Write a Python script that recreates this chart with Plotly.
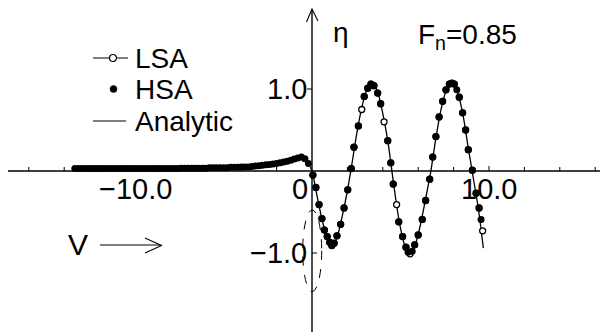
import plotly.graph_objects as go

# ---------------- data ----------------
hsa_x = [-13.4, -13.2, -13.0, -12.8, -12.6, -12.4, -12.2, -12.0, -11.8, -11.6, -11.4, -11.2,
         -11.0, -10.8, -10.6, -10.4, -10.2, -10.0, -9.8, -9.6, -9.4, -9.2, -9.0, -8.8, -8.6,
         -8.4, -8.2, -8.0, -7.8, -7.6, -7.4, -7.2, -7.0, -6.8, -6.6, -6.4, -6.2, -6.0, -5.8,
         -5.6, -5.4, -5.2, -5.0, -4.8, -4.6, -4.4, -4.2, -4.0, -3.8, -3.6, -3.4, -3.2, -3.0,
         -2.8, -2.6, -2.4, -2.2, -2.0, -1.8, -1.6, -1.4, -1.2, -1.0, -0.8, -0.6, -0.4, -0.2,
         0.05, 0.22, 0.40, 0.56, 0.70, 0.86, 1.00, 1.12, 1.25, 1.41, 1.62, 1.81, 2.02, 2.22,
         2.37, 2.62, 2.95, 3.15, 3.33, 3.50, 3.71, 3.88, 4.28, 4.45, 4.59, 4.90, 5.12,
         5.31, 5.43, 5.66, 5.80, 6.00, 6.23, 6.42, 6.65, 6.82, 7.00, 7.18, 7.38, 7.57, 7.76,
         7.90, 8.04, 8.18, 8.32, 8.51, 8.68, 8.83, 9.06, 9.27, 9.44, 9.55]
hsa_eta = [0.03, 0.03, 0.03, 0.03, 0.03, 0.03, 0.03, 0.03, 0.03, 0.03, 0.03, 0.03,
           0.03, 0.03, 0.03, 0.03, 0.03, 0.03, 0.03, 0.03, 0.03, 0.03, 0.03, 0.03, 0.03,
           0.03, 0.03, 0.03, 0.03, 0.03, 0.035, 0.035, 0.035, 0.035, 0.035, 0.035, 0.035, 0.035, 0.04,
           0.04, 0.04, 0.04, 0.04, 0.04, 0.045, 0.045, 0.045, 0.05, 0.05, 0.05, 0.055, 0.06, 0.065,
           0.07, 0.075, 0.08, 0.085, 0.09, 0.10, 0.11, 0.12, 0.13, 0.145, 0.16, 0.17, 0.15, 0.09,
           -0.05, -0.20, -0.41, -0.58, -0.72, -0.80, -0.87, -0.91, -0.88, -0.79, -0.65, -0.45, -0.23, 0.03,
           0.29, 0.55, 0.91, 1.01, 1.06, 1.04, 0.95, 0.82, 0.37, 0.10, -0.16, -0.62, -0.80,
           -0.93, -0.99, -0.98, -0.90, -0.78, -0.59, -0.36, -0.10, 0.17, 0.42, 0.66, 0.85, 0.99, 1.06,
           1.07, 1.06, 0.99, 0.90, 0.71, 0.50, 0.26, 0.01, -0.27, -0.45, -0.59]

lsa_x = [0.05, 0.22, 0.40, 0.56, 0.70, 0.86, 1.00, 1.12, 1.25, 1.41, 1.62, 1.81, 2.02, 2.22,
         2.37, 2.62, 2.81, 2.95, 3.15, 3.33, 3.50, 3.71, 3.88, 4.07, 4.28, 4.45, 4.59, 4.78,
         4.90, 5.12, 5.31, 5.54, 5.80, 6.00, 6.23, 6.42, 6.65, 6.82, 7.00, 7.18, 7.38, 7.57,
         7.76, 7.90, 8.04, 8.32, 8.51, 8.68, 8.83, 9.06, 9.27, 9.44, 9.64]
lsa_eta = [-0.05, -0.20, -0.41, -0.58, -0.72, -0.80, -0.87, -0.91, -0.88, -0.79, -0.65, -0.45, -0.23, 0.03,
           0.29, 0.55, 0.75, 0.91, 1.01, 1.06, 1.04, 0.95, 0.82, 0.60, 0.37, 0.10, -0.16, -0.41,
           -0.62, -0.80, -0.93, -1.01, -0.90, -0.78, -0.59, -0.36, -0.10, 0.17, 0.42, 0.66, 0.85, 0.99,
           1.06, 1.07, 1.06, 0.90, 0.71, 0.50, 0.26, 0.01, -0.27, -0.45, -0.73]

analytic_x = [-0.1, 0.0, 0.3, 0.6, 0.9, 1.15, 1.4, 1.7, 2.0, 2.25, 2.5, 2.8, 3.1, 3.4, 3.7,
              4.0, 4.3, 4.6, 4.9, 5.2, 5.5, 5.8, 6.1, 6.4, 6.7, 7.0, 7.3, 7.6, 7.9, 8.2,
              8.5, 8.8, 9.1, 9.4, 9.68]
analytic_eta = [0.05, 0.0, -0.32, -0.62, -0.84, -0.91, -0.82, -0.56, -0.24, 0.08, 0.42, 0.76, 0.99, 1.07, 0.97,
                0.70, 0.34, -0.14, -0.58, -0.88, -1.02, -0.92, -0.68, -0.36, -0.02, 0.40, 0.76, 0.99, 1.07, 0.97,
                0.72, 0.32, -0.07, -0.46, -0.94]

x_tick_values = [-16, -14, -12, -10, -8, -6, -4, -2, 2, 4, 6, 8, 10, 12, 14, 16]
x_tick_labels = {-10: "\u221210.0", 10: "10.0"}
y_tick_labels = {1: "1.0", -1: "\u22121.0"}
legend_names = ["LSA", "HSA", "Analytic"]

# ---------------- geometry helpers (pixel -> data) ----------------
W, H = 601, 332
X0PX, Y0PX = 312.0, 171.0
SX, SY = 17.7, 82.0


def X(px):
    return (px - X0PX) / SX


def Y(py):
    return (Y0PX - py) / SY


FONT = "Liberation Sans, Arial, Helvetica, sans-serif"
TICK_FONT = dict(size=29, family=FONT, color="black")
LEG_FONT = dict(size=28, family=FONT, color="black")
fig = go.Figure()

fig.add_trace(go.Scatter(x=analytic_x, y=analytic_eta, mode="lines",
                         line=dict(color="black", width=1.3, shape="spline", smoothing=0.8),
                         showlegend=False, hoverinfo="skip"))
fig.add_trace(go.Scatter(x=lsa_x, y=lsa_eta, mode="markers",
                         marker=dict(symbol="circle", size=6, color="white",
                                     line=dict(color="black", width=1.3)),
                         showlegend=False))
fig.add_trace(go.Scatter(x=hsa_x, y=hsa_eta, mode="markers",
                         marker=dict(symbol="circle", size=7, color="black",
                                     line=dict(width=0)),
                         showlegend=False))

shapes = []
ln = dict(color="black", width=1.4)
# x axis
shapes.append(dict(type="line", xref="x", yref="y", x0=X(8), x1=X(600), y0=0, y1=0, line=ln))
# y axis with open arrow
shapes.append(dict(type="line", xref="x", yref="y", x0=0, x1=0, y0=Y(332), y1=Y(9), line=ln))
shapes.append(dict(type="path", xref="x", yref="y",
                   path=f"M{X(306.5)},{Y(22)} L{X(312)},{Y(9)} L{X(318)},{Y(21)}",
                   line=dict(color="black", width=1.1)))
# x ticks
for t in x_tick_values:
    h = 5 if abs(t) == 10 else 4
    shapes.append(dict(type="line", xref="x", yref="y", x0=t, x1=t, y0=0, y1=h / SY,
                       line=dict(color="black", width=1)))
# y ticks
shapes.append(dict(type="line", xref="x", yref="y", x0=X(307), x1=0, y0=1, y1=1,
                   line=dict(color="black", width=1)))
shapes.append(dict(type="line", xref="x", yref="y", x0=0, x1=X(317), y0=-1, y1=-1,
                   line=dict(color="black", width=1)))
# dashed ellipse (pressure region)
shapes.append(dict(type="circle", xref="x", yref="y", x0=X(302.7), x1=X(321.7),
                   y0=Y(291.7), y1=Y(210), line=dict(color="black", width=1, dash="dash")))
# V arrow
shapes.append(dict(type="line", xref="x", yref="y", x0=X(100), x1=X(161), y0=Y(245), y1=Y(245),
                   line=dict(color="black", width=1.1)))
shapes.append(dict(type="path", xref="x", yref="y",
                   path=f"M{X(145)},{Y(238)} L{X(161.5)},{Y(245.5)} L{X(145)},{Y(253)}",
                   line=dict(color="black", width=1.1)))

# manual legend
leg_y = [58, 89, 121]
shapes.append(dict(type="line", xref="x", yref="y", x0=X(93), x1=X(128), y0=Y(leg_y[0]), y1=Y(leg_y[0]),
                   line=dict(color="black", width=1.1)))
shapes.append(dict(type="circle", xref="x", yref="y", x0=X(109.5), x1=X(116.5),
                   y0=Y(leg_y[0] + 3.5), y1=Y(leg_y[0] - 3.5),
                   fillcolor="white", line=dict(color="black", width=1.2)))
shapes.append(dict(type="circle", xref="x", yref="y", x0=X(110), x1=X(117),
                   y0=Y(leg_y[1] + 3.5), y1=Y(leg_y[1] - 3.5),
                   fillcolor="black", line=dict(color="black", width=0.5)))
shapes.append(dict(type="line", xref="x", yref="y", x0=X(93), x1=X(126), y0=Y(leg_y[2]), y1=Y(leg_y[2]),
                   line=dict(color="black", width=1.1)))

annotations = []
for name, py in zip(legend_names, leg_y):
    annotations.append(dict(x=X(133), y=Y(py), xref="x", yref="y", text=name, showarrow=False,
                            xanchor="left", yanchor="middle", font=LEG_FONT))

for v, lab in x_tick_labels.items():
    annotations.append(dict(x=v, y=0, xref="x", yref="y", text=lab, showarrow=False,
                            xanchor="center", yanchor="top", yshift=0, font=TICK_FONT))
annotations.append(dict(x=0, y=0, xref="x", yref="y", text="0", showarrow=False,
                        xanchor="right", yanchor="top", xshift=-2, yshift=0, font=TICK_FONT))
for v, lab in y_tick_labels.items():
    annotations.append(dict(x=0, y=v, xref="x", yref="y", text=lab, showarrow=False,
                            xanchor="right", yanchor="middle", xshift=-3, font=TICK_FONT))

annotations.append(dict(x=X(331), y=Y(32), xref="x", yref="y", text="\u03b7", showarrow=False,
                        xanchor="left", yanchor="middle", font=dict(size=28, family=FONT, color="black")))
annotations.append(dict(x=X(416), y=Y(36), xref="x", yref="y", text="F<sub>n</sub>=0.85", showarrow=False,
                        xanchor="left", yanchor="middle", font=dict(size=28, family=FONT, color="black")))
annotations.append(dict(x=X(78), y=Y(244), xref="x", yref="y", text="V", showarrow=False,
                        xanchor="center", yanchor="middle", font=dict(size=30, family=FONT, color="black")))

fig.update_layout(
    width=W, height=H,
    margin=dict(l=0, r=0, t=0, b=0),
    paper_bgcolor="white", plot_bgcolor="white",
    xaxis=dict(range=[X(0), X(W)], visible=False, fixedrange=True),
    yaxis=dict(range=[Y(H), Y(0)], visible=False, fixedrange=True),
    shapes=shapes, annotations=annotations,
    showlegend=False,
    font=dict(family=FONT, color="black"),
)

fig.write_html("out.html", config={"displayModeBar": False},
               post_script="document.body.style.margin='0px';document.body.style.overflow='hidden';")
